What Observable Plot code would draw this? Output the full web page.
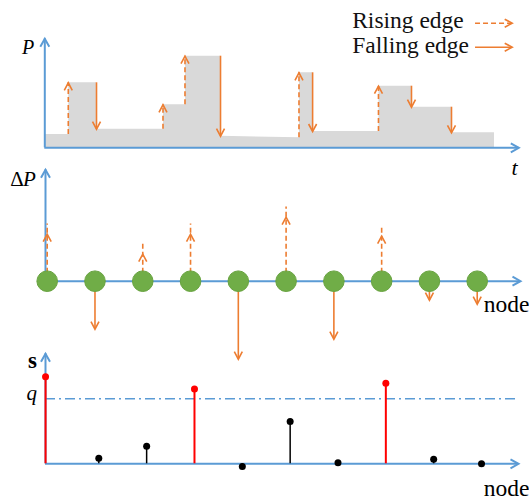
<!DOCTYPE html>
<html><head><meta charset="utf-8">
<script src="https://cdn.jsdelivr.net/npm/d3@7"></script>
<script src="https://cdn.jsdelivr.net/npm/@observablehq/plot@0.6"></script>
<style>
body{margin:0;background:#fff;}
#chart{position:relative;width:529px;height:500px;overflow:hidden;background:#fff;}
#chart svg{position:absolute;left:0;}
#chart svg text{font-family:"Liberation Serif","DejaVu Serif",serif;}
</style></head><body><div id="chart"></div>
<script>
// ---- Panel 1: aggregate power P(t), piecewise levels ----
const segStart   = [0, 0.506, 1.091, 2.504, 2.968, 3.707, 5.373, 5.65, 7.05, 7.736, 8.58];
const segEnd     = [0.506, 1.091, 2.504, 2.968, 3.707, 5.373, 5.65, 7.05, 7.736, 8.58, 9.487];
const powerStart = [1.33, 6.5, 1.86, 4.3, 9.16, 1.16, 7.5, 1.63, 6.16, 4.06, 1.5];
const powerEnd   = [1.33, 6.5, 1.86, 4.3, 9.16, 1.0, 7.5, 1.63, 6.16, 4.06, 1.5];
const legendLabels = ["Rising edge", "Falling edge"];

// ---- Panel 2: edge magnitudes ΔP per node ----
const nodes  = [1, 2, 3, 4, 5, 6, 7, 8, 9, 10];
const deltaP = [4.7, -4.8, 2.7, 4.7, -7.8, 6.4, -5.8, 4.5, -1.9, -2.3];

// ---- Panel 3: score s per node, threshold q ----
const score = [1.34, 0.086, 0.27, 1.15, -0.042, 0.65, 0.015, 1.24, 0.07, 0.0];
const q = 1;

const ORANGE = "#ed7d31", BLUE = "#5b9bd5", GREEN = "#70ad47", GRAY = "#d9d9d9", RED = "#ff0000";
const SERIF = "'Liberation Serif', 'DejaVu Serif', serif";
const DASH = "5,3", OW = 1.6;
const headSmall = {draw(c){ c.moveTo(-4, 7.5); c.lineTo(0, 0); c.lineTo(4, 7.5); }};
const headAxis  = {draw(c){ c.moveTo(-4.5, 8); c.lineTo(0, 0); c.lineTo(4.5, 8); }};
const STYLE = {background: "transparent", overflow: "visible", fontFamily: SERIF};

function axisMarks(x0, x1, y0, y1) {
  return [
    Plot.ruleY([y0], {x1: x0, x2: x1, stroke: BLUE, strokeWidth: 2}),
    Plot.ruleX([x0], {y1: y0, y2: y1, stroke: BLUE, strokeWidth: 2}),
    Plot.dot([[x1, y0]], {x: d => d[0], y: d => d[1], symbol: headAxis, rotate: 90, stroke: BLUE, strokeWidth: 2, fill: "none"}),
    Plot.dot([[x0, y1]], {x: d => d[0], y: d => d[1], symbol: headAxis, rotate: 0, stroke: BLUE, strokeWidth: 2, fill: "none"})
  ];
}
function txt(s, x, y, o) {
  return Plot.text([s], {x: () => x, y: () => y, text: d => d, fontFamily: SERIF, fill: "black", lineAnchor: "bottom", ...o});
}

// Panel 1 data
const areaPts = [];
segStart.forEach((t, i) => { areaPts.push({t, p: powerStart[i]}); areaPts.push({t: segEnd[i], p: powerEnd[i]}); });
const edges = segStart.slice(1).map((t, i) => ({t, from: powerEnd[i], to: powerStart[i + 1]}));
const rising = edges.filter(d => d.to > d.from), falling = edges.filter(d => d.to < d.from);
const legend = legendLabels.map((label, i) => ({label, i}));

const p1 = Plot.plot({
  width: 529, height: 180, margin: 0, style: STYLE,
  x: {domain: [0, 10], range: [44.3, 518.3], axis: null},
  y: {domain: [0, 10.9], range: [147.3, 38.3], axis: null},
  marks: [
    Plot.area(areaPts, {x1: "t", y1: 0, y2: "p", fill: GRAY}),
    ...axisMarks(0, 10, 0, 10.9),
    Plot.ruleX(rising, {x: "t", y1: "from", y2: "to", dx: -0.5, stroke: ORANGE, strokeWidth: OW, strokeDasharray: DASH}),
    Plot.dot(rising, {x: "t", y: "to", dx: -0.5, symbol: headSmall, stroke: ORANGE, strokeWidth: OW, fill: "none"}),
    Plot.ruleX(falling, {x: "t", y1: "from", y2: "to", stroke: ORANGE, strokeWidth: OW}),
    Plot.dot(falling, {x: "t", y: "to", symbol: headSmall, rotate: 180, stroke: ORANGE, strokeWidth: OW, fill: "none"}),
    // legend
    Plot.text(legend, {x: () => 6.485, y: d => d.i === 0 ? 12.0 : 9.5, text: "label", textAnchor: "start", lineAnchor: "bottom", fontFamily: SERIF, fontSize: 23.5, fill: "#111"}),
    Plot.ruleY(legend.filter(d => d.i === 0), {y: () => 12.46, x1: () => 9.087, x2: () => 9.861, stroke: ORANGE, strokeWidth: OW, strokeDasharray: DASH}),
    Plot.ruleY(legend.filter(d => d.i === 1), {y: () => 10.06, x1: () => 9.087, x2: () => 9.861, stroke: ORANGE, strokeWidth: OW}),
    Plot.dot(legend, {x: () => 9.861, y: d => d.i === 0 ? 12.46 : 10.06, symbol: headSmall, rotate: 90, stroke: ORANGE, strokeWidth: OW, fill: "none"}),
    txt("P", 0, 10.9, {dx: -16.8, dy: 15, fontSize: 20, fontStyle: "italic", textAnchor: "middle"}),
    txt("t", 10, 0, {dx: -4.3, dy: 26.7, fontSize: 22, fontStyle: "italic", textAnchor: "middle"})
  ]
});

// Panel 2
const nodeData = nodes.map((n, i) => ({n, dp: deltaP[i]}));
const up = nodeData.filter(d => d.dp > 0), down = nodeData.filter(d => d.dp < 0);
const p2 = Plot.plot({
  width: 529, height: 205, margin: 0, style: STYLE,
  x: {domain: [0.9644, 10.906], range: [45, 520], axis: null},
  y: {domain: [0, 11.14], range: [120.7, 9.3], axis: null},
  marks: [
    ...axisMarks(0.9644, 10.906, 0, 11.14),
    Plot.ruleX(up, {x: "n", y1: 0, y2: "dp", insetBottom: 10.3, stroke: ORANGE, strokeWidth: OW, strokeDasharray: DASH}),
    Plot.dot(up, {x: "n", y: "dp", symbol: headSmall, stroke: ORANGE, strokeWidth: OW, fill: "none"}),
    Plot.ruleX(down, {x: "n", y1: 0, y2: "dp", insetTop: 10.3, stroke: ORANGE, strokeWidth: OW}),
    Plot.dot(down, {x: "n", y: "dp", symbol: headSmall, rotate: 180, stroke: ORANGE, strokeWidth: OW, fill: "none"}),
    Plot.dot(nodeData, {x: "n", y: 0, r: 10.3, fill: GREEN, stroke: "#68a340", strokeWidth: 1}),
    txt("Δ", 0.9644, 11.14, {dx: -21.7, dy: 15.7, fontSize: 21, textAnchor: "end"}),
    txt("P", 0.9644, 11.14, {dx: -22.5, dy: 15.7, fontSize: 21, fontStyle: "italic", textAnchor: "start"}),
    txt("node", 10.906, 0, {dx: -14, dy: 31, fontSize: 23.5, textAnchor: "middle"})
  ]
});

// Panel 3
const sData = nodes.map((n, i) => ({n, s: score[i]}));
const first = sData.filter(d => d.n === 1);
const rest = sData.filter(d => d.n !== 1);
const hi = rest.filter(d => d.s > q), lo = rest.filter(d => d.s <= q);
const p3 = Plot.plot({
  width: 529, height: 160, margin: 0, style: STYLE,
  x: {domain: [0.8859, 10.773], range: [45, 518], axis: null},
  y: {domain: [0, 1.692], range: [123.3, 13.3], axis: null},
  marks: [
    Plot.ruleY([q], {x1: 0.8859, x2: 10.773, stroke: BLUE, strokeWidth: 1.5, strokeDasharray: "10,4,2,4"}),
    ...axisMarks(0.8859, 10.773, 0, 1.692),
    Plot.ruleX(lo, {x: "n", y1: 0, y2: "s", stroke: "black", strokeWidth: 1.5}),
    Plot.ruleX(hi, {x: "n", y1: 0, y2: "s", stroke: RED, strokeWidth: 2}),
    Plot.ruleX(first, {x: "n", y1: 0, y2: "s", dx: -5.4, stroke: d => d.s > q ? RED : "black", strokeWidth: 2}),
    Plot.dot(lo, {x: "n", y: "s", r: 3.5, fill: "black"}),
    Plot.dot(hi, {x: "n", y: "s", r: 3.5, fill: RED}),
    Plot.dot(first, {x: "n", y: "s", dx: -5.4, r: 3.5, fill: d => d.s > q ? RED : "black"}),
    txt("s", 0.8859, 1.692, {dx: -13, dy: 13.7, fontSize: 23, fontWeight: "bold", textAnchor: "middle"}),
    txt("q", 0.8859, q, {dx: -13.7, dy: 1.7, fontSize: 21, fontStyle: "italic", textAnchor: "middle"}),
    txt("node", 10.773, 0, {dx: -12, dy: 31.7, fontSize: 23.5, textAnchor: "middle"})
  ]
});

const chart = document.getElementById("chart");
[[p1, 0], [p2, 160], [p3, 340]].forEach(([svg, top]) => { svg.style.top = top + "px"; chart.appendChild(svg); });
</script></body></html>
